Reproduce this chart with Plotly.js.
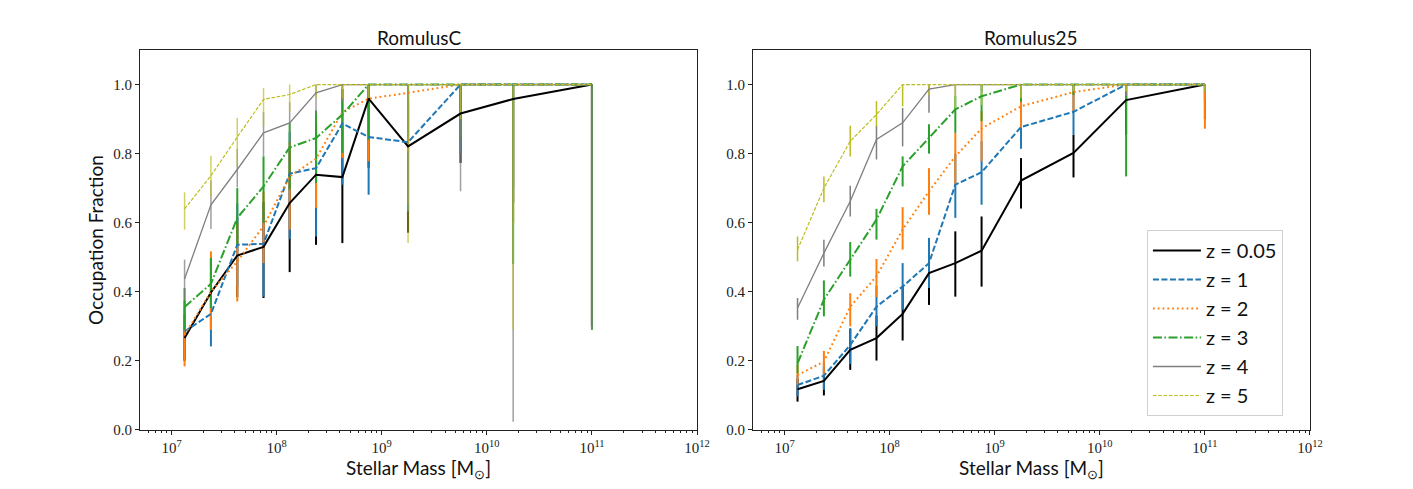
<!DOCTYPE html>
<html>
<head>
<meta charset="utf-8">
<script src="https://cdn.plot.ly/plotly-3.0.1.min.js"></script>
<style>html,body{margin:0;padding:0;background:#fff}#chart{width:1413px;height:489px}</style>
</head>
<body>
<div id="chart"></div>
<script>
// Stellar mass bin centres [Msun]
const masses = [1.33e7, 2.37e7, 4.22e7, 7.5e7, 1.33e8, 2.37e8, 4.22e8, 7.5e8, 1.78e9, 5.62e9, 1.78e10, 1e11];

const seriesNames = ['z = 0.05', 'z = 1', 'z = 2', 'z = 3', 'z = 4', 'z = 5'];

// RomulusC occupation fractions
const cZ005 = [0.266, 0.398, 0.505, 0.530, 0.657, 0.739, 0.732, 0.959, 0.821, 0.916, 0.958, 1.0];
const cZ1   = [0.285, 0.336, 0.536, 0.539, 0.742, 0.758, 0.887, 0.848, 0.833, 1.0, 1.0, 1.0];
const cZ2   = [0.275, 0.400, 0.488, 0.590, 0.734, 0.785, 0.920, 0.959, 0.976, 1.0, 1.0, 1.0];
const cZ3   = [0.356, 0.423, 0.614, 0.705, 0.818, 0.845, 0.913, 1.0, 1.0, 1.0, 1.0, 1.0];
const cZ4   = [0.437, 0.652, 0.754, 0.860, 0.889, 0.976, 1.0, 1.0, 1.0, 1.0, 1.0, 1.0];
const cZ5   = [0.640, 0.736, 0.848, 0.957, 0.971, 1.0, 1.0, 1.0, 1.0, 1.0, 1.0, 1.0];
// RomulusC error bars (upper / lower)
const cZ005Up = [0.07, 0.10, 0.11, 0.13, 0.15, 0.15, 0.15, 0.041, 0.15, 0.084, 0.042, 0.0];
const cZ005Lo = [0.066, 0.10, 0.12, 0.148, 0.20, 0.203, 0.191, 0.20, 0.25, 0.143, 0.30, 0.70];
const cZ1Up   = [0.09, 0.10, 0.12, 0.12, 0.12, 0.12, 0.10, 0.12, 0.12, 0.0, 0.0, 0.0];
const cZ1Lo   = [0.08, 0.094, 0.12, 0.153, 0.19, 0.198, 0.177, 0.167, 0.20, 0.20, 0.30, 0.70];
const cZ2Up   = [0.08, 0.117, 0.11, 0.10, 0.10, 0.10, 0.08, 0.041, 0.024, 0.0, 0.0, 0.0];
const cZ2Lo   = [0.091, 0.11, 0.116, 0.107, 0.154, 0.142, 0.133, 0.181, 0.17, 0.15, 0.40, 0.70];
const cZ3Up   = [0.055, 0.075, 0.086, 0.087, 0.07, 0.08, 0.073, 0.0, 0.0, 0.0, 0.0, 0.0];
const cZ3Lo   = [0.066, 0.07, 0.078, 0.106, 0.122, 0.13, 0.111, 0.16, 0.15, 0.16, 0.52, 0.71];
const cZ4Up   = [0.056, 0.07, 0.06, 0.06, 0.06, 0.024, 0.0, 0.0, 0.0, 0.0, 0.0, 0.0];
const cZ4Lo   = [0.06, 0.07, 0.052, 0.068, 0.07, 0.06, 0.05, 0.05, 0.348, 0.309, 0.976, 0.71];
const cZ5Up   = [0.048, 0.058, 0.055, 0.033, 0.029, 0.0, 0.0, 0.0, 0.0, 0.0, 0.0, 0.0];
const cZ5Lo   = [0.06, 0.06, 0.085, 0.078, 0.05, 0.04, 0.04, 0.04, 0.459, 0.10, 0.71, 0.0];

// Romulus25 occupation fractions
const rZ005 = [0.118, 0.142, 0.232, 0.266, 0.336, 0.454, 0.483, 0.519, 0.722, 0.802, 0.955, 1.0];
const rZ1   = [0.130, 0.157, 0.246, 0.357, 0.415, 0.483, 0.710, 0.746, 0.877, 0.921, 1.0, 1.0];
const rZ2   = [0.159, 0.198, 0.357, 0.445, 0.580, 0.691, 0.792, 0.873, 0.937, 0.978, 1.0, 1.0];
const rZ3   = [0.193, 0.377, 0.493, 0.609, 0.763, 0.845, 0.928, 0.966, 1.0, 1.0, 1.0, 1.0];
const rZ4   = [0.353, 0.512, 0.662, 0.841, 0.889, 0.987, 1.0, 1.0, 1.0, 1.0, 1.0, 1.0];
const rZ5   = [0.522, 0.700, 0.836, 0.913, 1.0, 1.0, 1.0, 1.0, 1.0, 1.0, 1.0, 1.0];
// Romulus25 error bars (upper / lower)
const rZ005Up = [0.03, 0.04, 0.06, 0.065, 0.08, 0.09, 0.092, 0.099, 0.065, 0.053, 0.045, 0.0];
const rZ005Lo = [0.036, 0.042, 0.058, 0.065, 0.077, 0.092, 0.097, 0.104, 0.081, 0.071, 0.10, 0.10];
const rZ1Up   = [0.03, 0.04, 0.049, 0.06, 0.068, 0.073, 0.09, 0.09, 0.06, 0.06, 0.0, 0.0];
const rZ1Lo   = [0.033, 0.041, 0.055, 0.057, 0.067, 0.072, 0.096, 0.094, 0.063, 0.066, 0.05, 0.05];
const rZ2Up   = [0.03, 0.031, 0.039, 0.05, 0.065, 0.067, 0.068, 0.05, 0.03, 0.022, 0.0, 0.0];
const rZ2Lo   = [0.03, 0.039, 0.057, 0.06, 0.058, 0.068, 0.082, 0.095, 0.063, 0.057, 0.05, 0.128];
const rZ3Up   = [0.05, 0.056, 0.051, 0.031, 0.029, 0.04, 0.04, 0.034, 0.0, 0.0, 0.0, 0.0];
const rZ3Lo   = [0.029, 0.048, 0.049, 0.058, 0.058, 0.045, 0.068, 0.072, 0.05, 0.03, 0.266, 0.02];
const rZ4Up   = [0.029, 0.039, 0.045, 0.04, 0.043, 0.013, 0.0, 0.0, 0.0, 0.0, 0.0, 0.0];
const rZ4Lo   = [0.034, 0.039, 0.044, 0.058, 0.068, 0.069, 0.03, 0.02, 0.02, 0.02, 0.034, 0.02];
const rZ5Up   = [0.038, 0.034, 0.045, 0.039, 0.0, 0.0, 0.0, 0.0, 0.0, 0.0, 0.0, 0.0];
const rZ5Lo   = [0.034, 0.041, 0.044, 0.034, 0.063, 0.03, 0.07, 0.06, 0.04, 0.02, 0.02, 0.02];

const xTickVals = [1e7, 1e8, 1e9, 1e10, 1e11, 1e12];
const xTickText = ['10<sup>7</sup>', '10<sup>8</sup>', '10<sup>9</sup>', '10<sup>10</sup>', '10<sup>11</sup>', '10<sup>12</sup>'];
const yTickVals = [0, 0.2, 0.4, 0.6, 0.8, 1.0];

const colors = ['#000000', '#1f77b4', '#ff7f0e', '#2ca02c', '#7f7f7f', '#bcbd22'];
const barColorsC = ['#000000', '#1f77b4', '#ff7f0e', '#2ca02c', 'rgba(127,127,127,0.75)', 'rgba(188,189,34,0.7)'];
const dashes = ['solid', '6px,2.5px', '1.8px,3px', '9px,2.5px,1.6px,2.5px', 'solid', '3.7px,1.6px'];
const widths = [2, 2, 2, 2, 1.3, 1.2];
const barWidths = [2, 2, 2, 2, 1.5, 1.5];

const panels = [
  {xa: 'x', ya: 'y', vals: [cZ005, cZ1, cZ2, cZ3, cZ4, cZ5],
   up: [cZ005Up, cZ1Up, cZ2Up, cZ3Up, cZ4Up, cZ5Up],
   lo: [cZ005Lo, cZ1Lo, cZ2Lo, cZ3Lo, cZ4Lo, cZ5Lo], legend: false, barColors: barColorsC},
  {xa: 'x2', ya: 'y2', vals: [rZ005, rZ1, rZ2, rZ3, rZ4, rZ5],
   up: [rZ005Up, rZ1Up, rZ2Up, rZ3Up, rZ4Up, rZ5Up],
   lo: [rZ005Lo, rZ1Lo, rZ2Lo, rZ3Lo, rZ4Lo, rZ5Lo], legend: true, barColors: colors}
];

const traces = [];
panels.forEach(p => {
  // error bars first, so all lines sit above them
  p.vals.forEach((v, i) => {
    traces.push({
      x: masses, y: v, xaxis: p.xa, yaxis: p.ya, type: 'scatter', mode: 'markers',
      marker: {size: 1, color: 'rgba(0,0,0,0)'}, showlegend: false, hoverinfo: 'skip',
      error_y: {type: 'data', symmetric: false, array: p.up[i], arrayminus: p.lo[i],
                color: p.barColors[i], thickness: barWidths[i], width: 0}
    });
  });
  p.vals.forEach((v, i) => {
    traces.push({
      x: masses, y: v, xaxis: p.xa, yaxis: p.ya, type: 'scatter', mode: 'lines',
      name: seriesNames[i], showlegend: p.legend,
      line: {color: colors[i], width: widths[i], dash: dashes[i]}
    });
  });
});

const serif = 'Liberation Serif, DejaVu Serif, serif';
const sans = 'Lato, Open Sans, sans-serif';

function xaxis(domain, anchor) {
  return {
    type: 'log', range: [6.7, 12], domain: domain, anchor: anchor,
    tickmode: 'array', tickvals: xTickVals, ticktext: xTickText,
    ticks: 'outside', ticklen: 4, tickwidth: 1, tickcolor: '#222',
    showline: true, linecolor: '#222', linewidth: 1, mirror: true,
    showgrid: false, zeroline: false,
    tickfont: {family: serif, size: 15, color: '#222'},
    minor: {ticks: 'outside', ticklen: 2, tickwidth: 1, tickcolor: '#222', showgrid: false, dtick: 'D1'},
    title: {text: 'Stellar Mass [M<sub>⊙</sub>]', font: {family: sans, size: 19, color: '#111'}, standoff: 4}
  };
}
function yaxis(anchor, withTitle) {
  const a = {
    range: [0, 1.1], domain: [0.1207, 0.8978], anchor: anchor,
    tickmode: 'array', tickvals: yTickVals, tickformat: '.1f',
    ticks: 'outside', ticklen: 4, tickwidth: 1, tickcolor: '#222',
    showline: true, linecolor: '#222', linewidth: 1, mirror: true,
    showgrid: false, zeroline: false,
    tickfont: {family: serif, size: 15, color: '#222'}
  };
  if (withTitle) a.title = {text: 'Occupation Fraction', font: {family: sans, size: 19, color: '#111'}, standoff: 4};
  return a;
}

const layout = {
  width: 1413, height: 489,
  margin: {l: 0, r: 0, t: 0, b: 0},
  paper_bgcolor: '#fff', plot_bgcolor: '#fff',
  xaxis: xaxis([0.0991, 0.4933], 'y'),
  yaxis: yaxis('x', true),
  xaxis2: xaxis([0.5329, 0.9271], 'y2'),
  yaxis2: yaxis('x2', false),
  showlegend: true,
  legend: {
    x: 0.8117, y: 0.5297, xanchor: 'left', yanchor: 'top',
    bgcolor: 'rgba(255,255,255,0.85)', bordercolor: '#d0d0d0', borderwidth: 1,
    font: {family: sans, size: 20, color: '#111'}, itemwidth: 48, tracegroupgap: 0
  },
  annotations: [
    {text: 'RomulusC', xref: 'paper', yref: 'paper', x: 0.2962, y: 0.8978, xanchor: 'center', yanchor: 'bottom',
     yshift: -1, showarrow: false, font: {family: sans, size: 19, color: '#111'}},
    {text: 'Romulus25', xref: 'paper', yref: 'paper', x: 0.73, y: 0.8978, xanchor: 'center', yanchor: 'bottom',
     yshift: -1, showarrow: false, font: {family: sans, size: 19, color: '#111'}}
  ]
};

Plotly.newPlot('chart', traces, layout, {displayModeBar: false, staticPlot: true});
</script>
</body>
</html>
